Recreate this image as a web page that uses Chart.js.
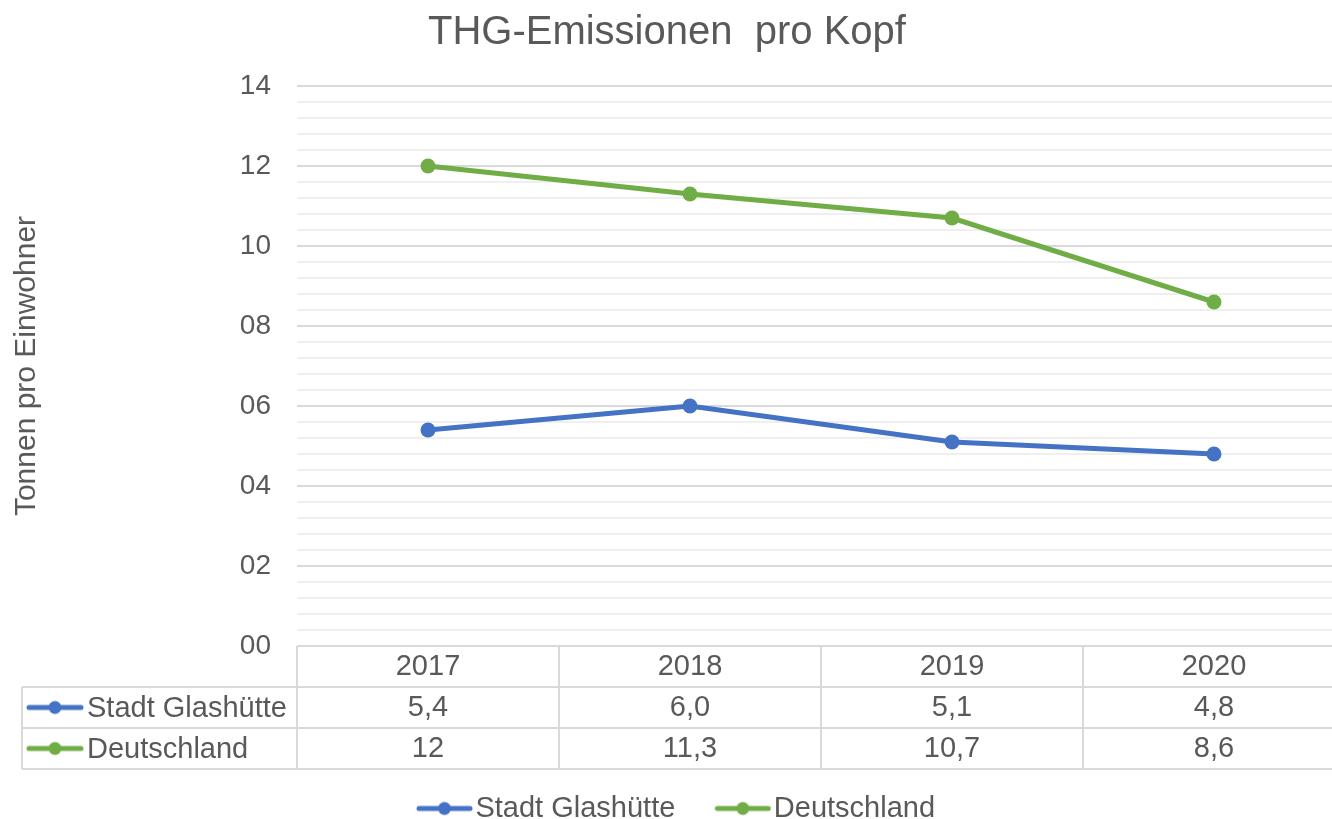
<!DOCTYPE html>
<html lang="de">
<head>
<meta charset="utf-8">
<title>THG-Emissionen pro Kopf</title>
<script src="https://cdn.jsdelivr.net/npm/chart.js@4.4.1/dist/chart.umd.min.js"></script>
<style>
  html, body { margin: 0; padding: 0; background: #fff; overflow: hidden; }
  #wrap { width: 1332px; height: 819px; overflow: hidden; }
</style>
</head>
<body>
<div id="wrap">
  <canvas id="emissionChart" width="1360" height="819"></canvas>
</div>
<script>
// Daten aus der Grafik
var categories = ['2017', '2018', '2019', '2020'];
var seriesNames = ['Stadt Glashütte', 'Deutschland'];
var glashuetteValues = [5.4, 6.0, 5.1, 4.8];
var deutschlandValues = [12, 11.3, 10.7, 8.6];
// Texte der Datentabelle (so wie sie in der Tabelle stehen)
var glashuetteText = ['5,4', '6,0', '5,1', '4,8'];
var deutschlandText = ['12', '11,3', '10,7', '8,6'];
var yMin = 0, yMax = 14, yMajor = 2, yMinor = 0.4;

var FONT = "'Liberation Sans', Arial, sans-serif";
var TEXT = '#595959';
var BLUE = '#4472C4';
var GREEN = '#70AD47';
var ROW_H = 41;

Chart.defaults.font.family = FONT;
Chart.defaults.color = TEXT;

// Symbol: Linie mit Punkt (x0..x1 innerhalb eines Bildes der Breite w)
function makeMarker(color, w, x0, x1) {
    var c = document.createElement('canvas');
    c.width = w; c.height = 16;
    var g = c.getContext('2d');
    g.strokeStyle = color;
    g.lineWidth = 5;
    g.lineCap = 'round';
    g.beginPath(); g.moveTo(x0, 8); g.lineTo(x1, 8); g.stroke();
    g.fillStyle = color;
    g.beginPath(); g.arc((x0 + x1) / 2, 8, 6.5, 0, Math.PI * 2); g.fill();
    return c;
}
var tableMarkers = [makeMarker(BLUE, 58, 3, 55), makeMarker(GREEN, 58, 3, 55)];
var legendMarkers = [makeMarker(BLUE, 108, 54, 105), makeMarker(GREEN, 108, 54, 105)];

function isMajor(v) {
    var q = v / yMajor;
    return Math.abs(q - Math.round(q)) < 1e-6;
}

// Beschriftungen der x-Achse = Spalten der Datentabelle
var xLabels = categories.map(function(c, i) {
    return [c, glashuetteText[i], deutschlandText[i]];
});

// Legende etwas nach links ruecken (wie im Original)
var legendShift = {
    id: 'legendShift',
    afterLayout: function(chart) {
        if (chart.legend) chart.legend.right -= 33;
    }
};

// Tabellenlinien und Zeilenköpfe zeichnen
var dataTable = {
    id: 'dataTable',
    afterDraw: function(chart) {
        var ctx = chart.ctx, a = chart.chartArea, xs = chart.scales.x;
        var top = a.bottom, bottom = top + 3 * ROW_H, right = chart.width;
        ctx.save();
        ctx.strokeStyle = '#d9d9d9';
        ctx.lineWidth = 2;
        ctx.beginPath();
        for (var r = 1; r <= 3; r++) {
            ctx.moveTo(22, top + r * ROW_H);
            ctx.lineTo(right, top + r * ROW_H);
        }
        ctx.moveTo(22, top + ROW_H); ctx.lineTo(22, bottom);
        ctx.moveTo(a.left, top); ctx.lineTo(a.left, bottom);
        for (var i = 1; i < categories.length; i++) {
            var xm = (xs.getPixelForTick(i - 1) + xs.getPixelForTick(i)) / 2;
            ctx.moveTo(xm, top); ctx.lineTo(xm, bottom);
        }
        ctx.stroke();

        ctx.fillStyle = TEXT;
        ctx.font = '29px ' + FONT;
        ctx.textAlign = 'left';
        ctx.textBaseline = 'middle';
        for (var s = 0; s < seriesNames.length; s++) {
            var yc = top + (s + 1.5) * ROW_H;
            ctx.drawImage(tableMarkers[s], 26, yc - 8);
            ctx.fillText(seriesNames[s], 87, yc + 1);
        }
        ctx.restore();
    }
};

var ctx = document.getElementById('emissionChart').getContext('2d');

var datos = {
    labels: xLabels,
    datasets: [{
        label: seriesNames[0],
        data: glashuetteValues,
        borderColor: BLUE,
        backgroundColor: BLUE,
        borderWidth: 5,
        pointRadius: 7.5,
        pointBorderWidth: 0,
        pointBackgroundColor: BLUE,
        tension: 0
    }, {
        label: seriesNames[1],
        data: deutschlandValues,
        borderColor: GREEN,
        backgroundColor: GREEN,
        borderWidth: 5,
        pointRadius: 7.5,
        pointBorderWidth: 0,
        pointBackgroundColor: GREEN,
        tension: 0
    }]
};

var config = {
    type: 'line',
    data: datos,
    options: {
        responsive: false,
        animation: false,
        layout: { padding: { left: 0, right: 15, top: 0, bottom: -14 } },
        plugins: {
            title: {
                display: true,
                text: 'THG-Emissionen  pro Kopf ',
                color: TEXT,
                font: { size: 40, weight: 'normal', lineHeight: 1.2 },
                padding: { top: 9, bottom: 29 }
            },
            legend: {
                position: 'bottom',
                labels: {
                    usePointStyle: true,
                    pointStyleWidth: 84,
                    boxHeight: 16,
                    padding: 0,
                    color: TEXT,
                    font: { size: 29 },
                    generateLabels: function(chart) {
                        var items = Chart.defaults.plugins.legend.labels.generateLabels(chart);
                        items.forEach(function(it, i) { it.pointStyle = legendMarkers[i]; });
                        return items;
                    }
                }
            },
            tooltip: { enabled: false }
        },
        scales: {
            x: {
                offset: true,
                afterFit: function(scale) { scale.height = 3 * ROW_H + 25; },
                grid: { display: false, drawTicks: false },
                border: { display: false },
                ticks: {
                    autoSkip: false,
                    maxRotation: 0,
                    padding: 0,
                    color: TEXT,
                    font: { size: 29, lineHeight: ROW_H / 29 }
                }
            },
            y: {
                min: yMin,
                max: yMax,
                afterFit: function(scale) { scale.width = 297; },
                border: { display: false },
                grid: {
                    drawTicks: false,
                    lineWidth: 2,
                    color: function(c) {
                        return isMajor(c.tick.value) ? '#d9d9d9' : '#efefef';
                    }
                },
                ticks: {
                    stepSize: yMinor,
                    autoSkip: false,
                    padding: 26,
                    color: TEXT,
                    font: { size: 28 },
                    callback: function(v) {
                        if (!isMajor(v)) return '';
                        var n = Math.round(v);
                        return (n < 10 ? '0' : '') + n;
                    }
                },
                title: {
                    display: true,
                    text: 'Tonnen pro Einwohner',
                    color: TEXT,
                    font: { size: 30 },
                    padding: { top: 9, bottom: 0 }
                }
            }
        }
    },
    plugins: [dataTable, legendShift]
};

var emissionChart = new Chart(ctx, config);
</script>
</body>
</html>
